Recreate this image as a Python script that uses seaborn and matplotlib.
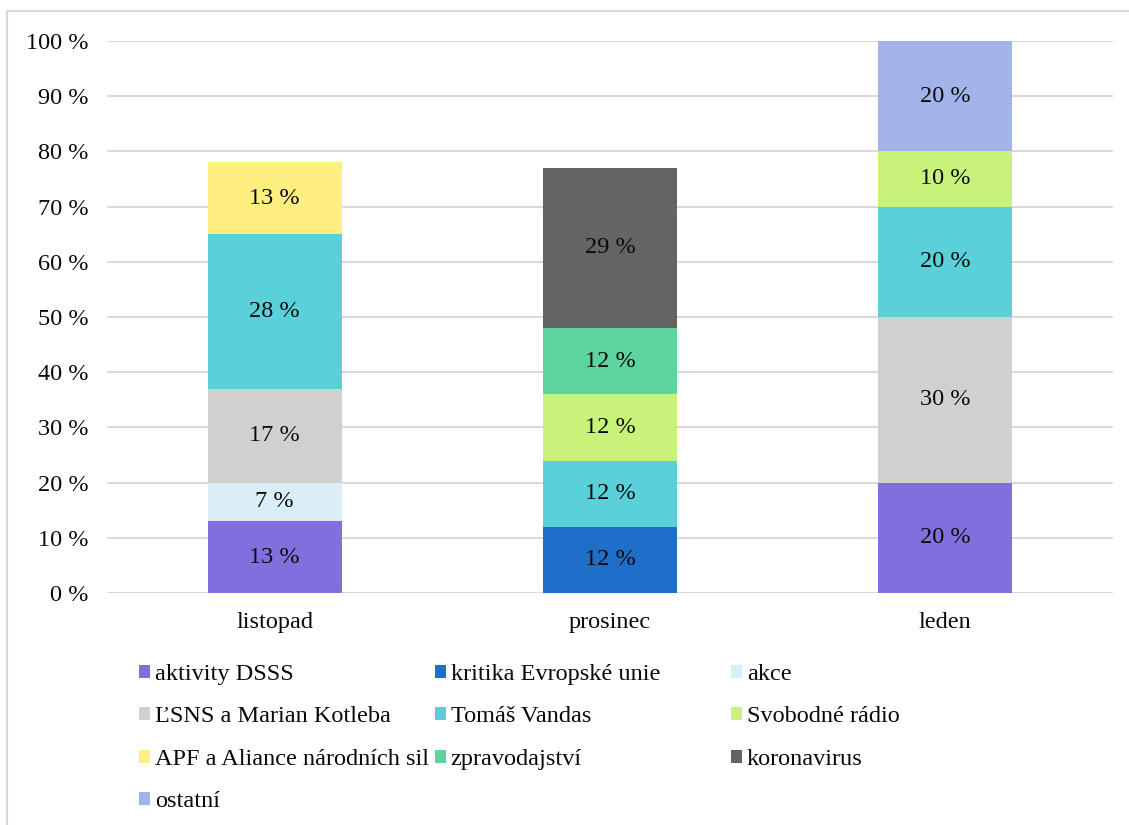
import matplotlib
matplotlib.use("Agg")
import matplotlib.pyplot as plt
import matplotlib.patches as mpatches
import seaborn as sns
import pandas as pd
import numpy as np

months = ["listopad", "prosinec", "leden"]
topics = ["aktivity DSSS", "kritika Evropské unie", "akce", "ĽSNS a Marian Kotleba",
          "Tomáš Vandas", "Svobodné rádio", "APF a Aliance národních sil",
          "zpravodajství", "koronavirus", "ostatní"]
colors = ["#836EDD", "#1F6EC7", "#DAEEF8", "#D0D0D0", "#5AD1D9", "#C8F27A",
          "#FEEF80", "#5DD39E", "#646464", "#A0B4EA"]
# values per topic for [listopad, prosinec, leden]
aktivity_dsss = [13, 0, 20]
kritika_eu = [0, 12, 0]
akce = [7, 0, 0]
lsns = [17, 0, 30]
vandas = [28, 12, 20]
svobodne_radio = [0, 12, 10]
apf = [13, 0, 0]
zpravodajstvi = [0, 12, 0]
koronavirus = [0, 29, 0]
ostatni = [0, 0, 20]
yticks = list(range(0, 101, 10))
ytick_labels = [f"{v} %" for v in yticks]

series = [aktivity_dsss, kritika_eu, akce, lsns, vandas, svobodne_radio,
          apf, zpravodajstvi, koronavirus, ostatni]

sns.set_theme(style="white")
plt.rcParams["font.family"] = ["Liberation Serif", "DejaVu Serif"]
FS = 17.5

W, H = 1129, 825
fig = plt.figure(figsize=(W / 100, H / 100), dpi=100)
ax = fig.add_axes([107 / W, 1 - 593 / H, (1113 - 107) / W, (593 - 41) / H])

vals = np.array(series, dtype=float)  # topics x months
cum = np.cumsum(vals, axis=0)
bottoms = cum - vals

# draw cumulative tops from the highest layer down
for i in range(len(topics) - 1, -1, -1):
    df = pd.DataFrame({"month": months, "top": cum[i]})
    sns.barplot(data=df, x="month", y="top", order=months, color=colors[i],
                saturation=1, width=0.4, linewidth=0, ax=ax, zorder=2)

for i in range(len(topics)):
    for j in range(len(months)):
        v = vals[i, j]
        if v > 0:
            ax.text(j, bottoms[i, j] + v / 2, f"{int(v)} %", ha="center", va="center",
                    fontsize=FS, color="#0A0A0A", zorder=3)

ax.set_xlim(-0.5, 2.5)
ax.set_ylim(0, 100)
ax.set_yticks(yticks)
ax.set_yticklabels(ytick_labels, fontsize=FS)
ax.set_xticklabels(months, fontsize=FS)
ax.set_xlabel("")
ax.set_ylabel("")
ax.tick_params(axis="y", length=0, pad=13.5, labelcolor="#0A0A0A")
ax.tick_params(axis="x", length=0, pad=14, labelcolor="#0A0A0A")
for s in ax.spines.values():
    s.set_visible(False)
ax.grid(axis="y", color="#D9D9D9", linewidth=1.5, zorder=0)
ax.set_axisbelow(True)

# figure border (left and top visible)
fig.patches.append(mpatches.Rectangle((7 / W, -0.05), 1.2, 1 - 11 / H + 0.05,
                                      transform=fig.transFigure, fill=False,
                                      edgecolor="#D9D9D9", linewidth=1.5))

col_idx = [[0, 3, 6, 9], [1, 4, 7], [2, 5, 8]]
col_x = [139, 435, 731]
for cols, x in zip(col_idx, col_x):
    handles = [mpatches.Patch(facecolor=colors[k], edgecolor="none") for k in cols]
    labels = [topics[k] for k in cols]
    leg = fig.legend(handles, labels, loc="upper left", bbox_to_anchor=(x / W, 1 - 664 / H),
                     frameon=False, fontsize=FS, handlelength=0.45, handleheight=0.45,
                     handletextpad=0.2, labelspacing=0.88, borderpad=0, borderaxespad=0)
    for t in leg.get_texts():
        t.set_color("#0A0A0A")

fig.savefig("out.png", dpi=100)
